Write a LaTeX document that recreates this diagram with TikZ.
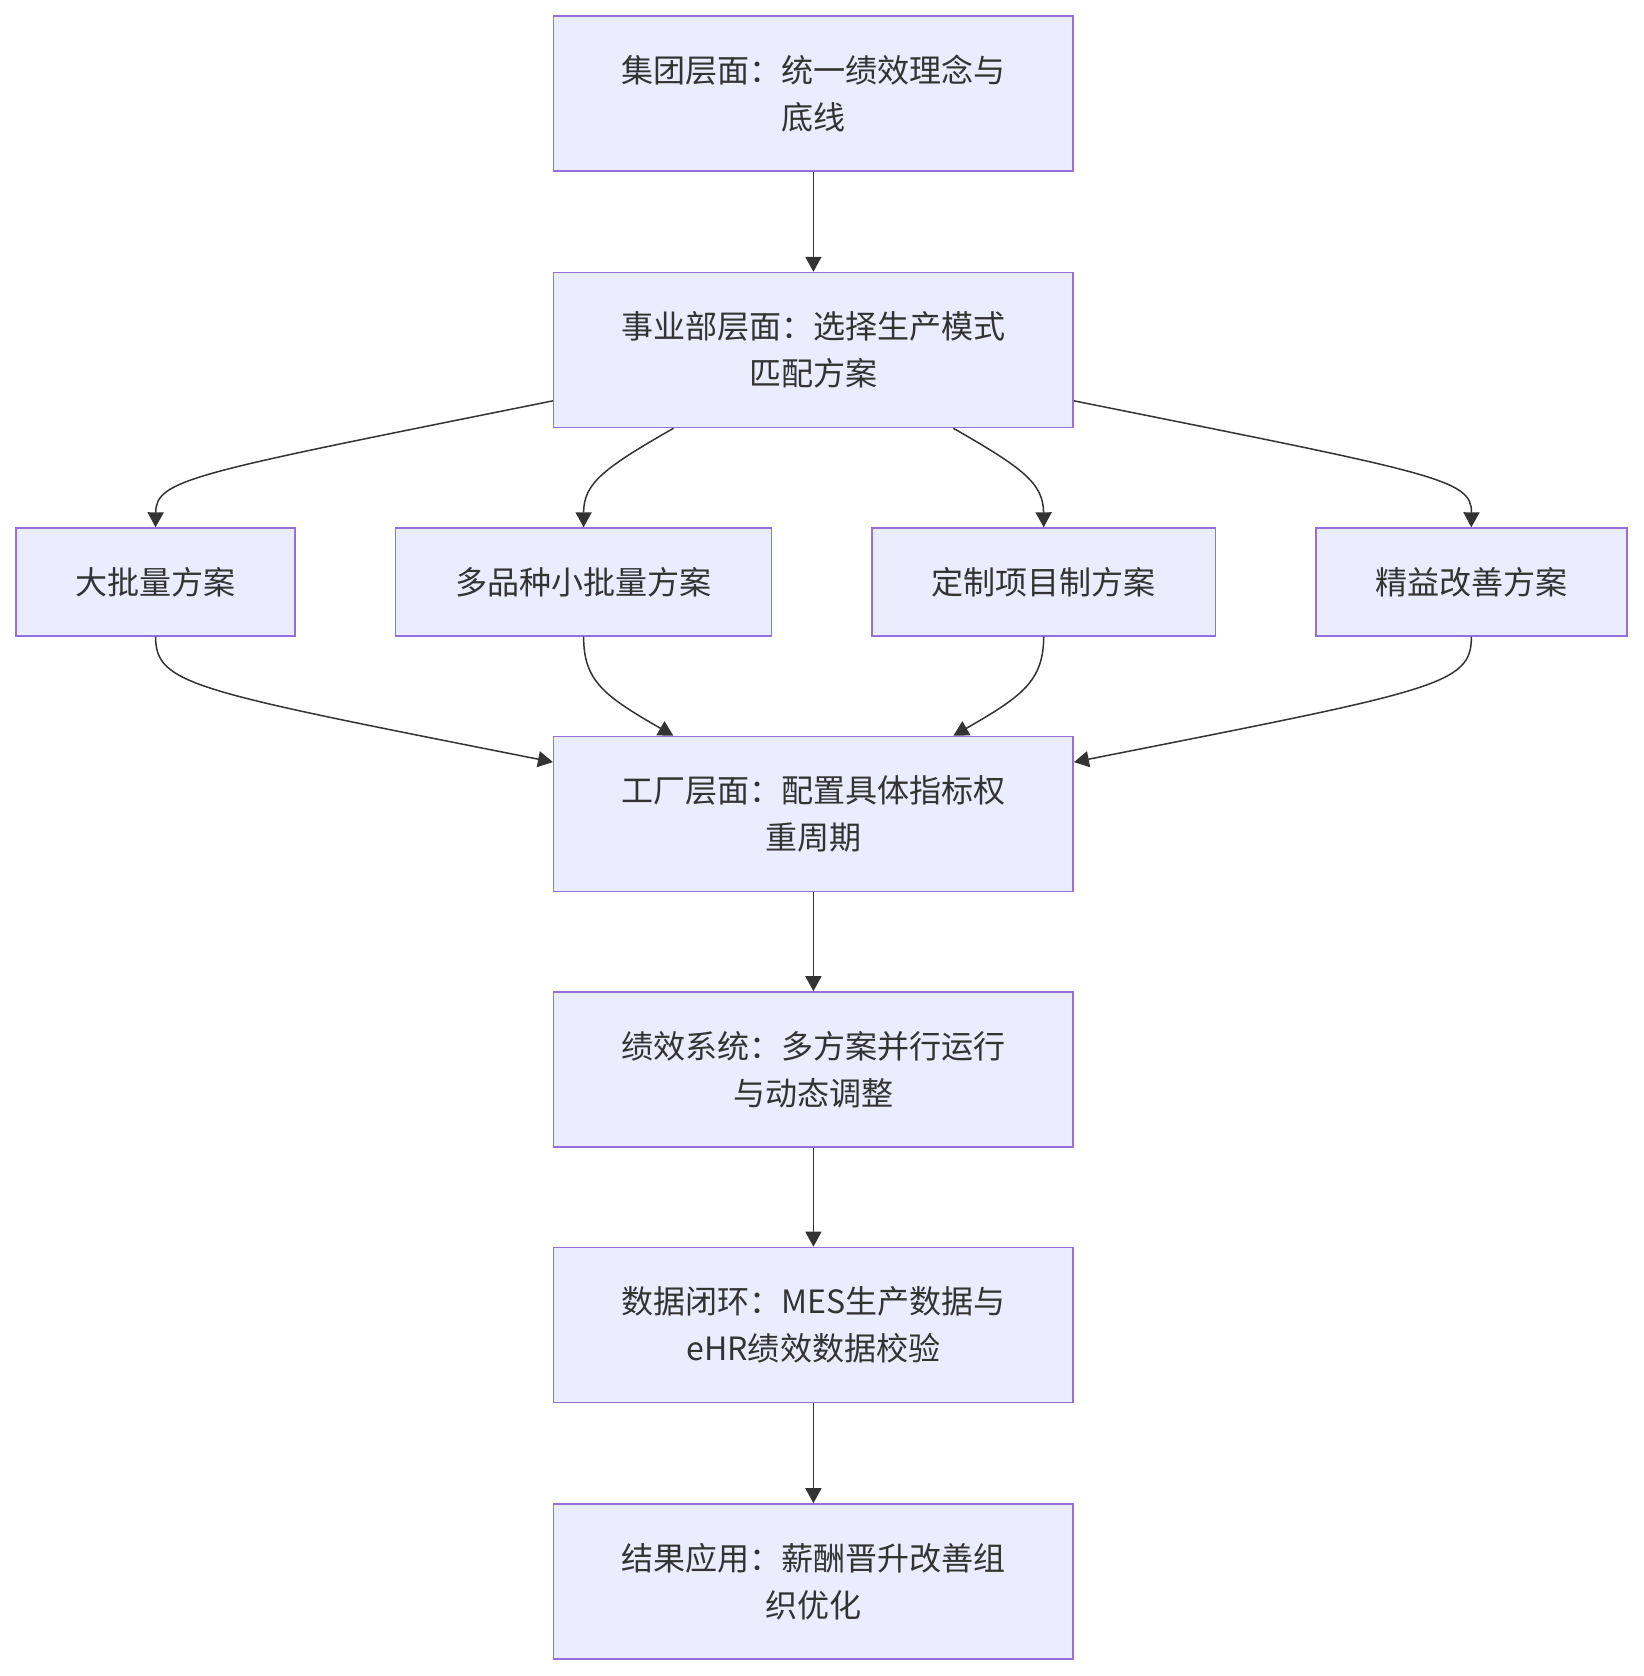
\documentclass[tikz,border=0pt]{standalone}
\usepackage{fontspec}
\setmainfont{Noto Sans CJK SC}
\usetikzlibrary{arrows.meta}
\definecolor{boxfill}{HTML}{ECECFF}
\definecolor{boxline}{HTML}{9370DB}
\definecolor{arr}{HTML}{333333}
\tikzset{
  bigbox/.style={draw=boxline, fill=boxfill, line width=1.4pt, minimum width=486pt, minimum height=145pt, inner sep=0pt, align=center, text=arr, font=\fontsize{30}{44}\selectfont},
  rowbox/.style={draw=boxline, fill=boxfill, line width=1.4pt, minimum height=101pt, inner sep=0pt, align=center, text=arr, font=\fontsize{30}{44}\selectfont},
  link/.style={draw=arr, line width=1.4pt, -{Triangle[length=14pt,width=15pt]}}
}
\begin{document}
\begin{tikzpicture}[x=1pt,y=-1pt]
\useasboundingbox (0,0) rectangle (1538,1568);
\node[bigbox] (b1) at (761,87.5) {集团层面：统一绩效理念与\\底线};
\node[bigbox] (b2) at (761,327.5) {事业部层面：选择生产模式\\匹配方案};
\node[rowbox, minimum width=261pt] (r1) at (145.5,544.5) {大批量方案};
\node[rowbox, minimum width=352pt] (r2) at (546,544.5) {多品种小批量方案};
\node[rowbox, minimum width=321pt] (r3) at (976.5,544.5) {定制项目制方案};
\node[rowbox, minimum width=291pt] (r4) at (1376.5,544.5) {精益改善方案};
\node[bigbox] (b3) at (761,761.5) {工厂层面：配置具体指标权\\重周期};
\node[bigbox] (b4) at (761,1000.5) {绩效系统：多方案并行运行\\与动态调整};
\node[bigbox] (b5) at (761,1239.5) {数据闭环：MES生产数据与\\eHR绩效数据校验};
\node[bigbox] (b6) at (761,1479.5) {结果应用：薪酬晋升改善组\\织优化};

\draw[link] (b1) -- (b2);
\draw[link] (b3) -- (b4);
\draw[link] (b4) -- (b5);
\draw[link] (b5) -- (b6);

\draw[link] ([yshift=-47.5pt]b2.west) .. controls (180,443) and (146,448) .. (r1.north);
\draw[link] ([xshift=-131pt]b2.south) .. controls (565,438) and (546,452) .. (r2.north);
\draw[link] ([xshift=131pt]b2.south) .. controls (957,438) and (976,452) .. (r3.north);
\draw[link] ([yshift=-47.5pt]b2.east) .. controls (1343,443) and (1377,448) .. (r4.north);

\draw[link] (r1.south) .. controls (146,641) and (180,646) .. ([yshift=48.5pt]b3.west);
\draw[link] (r2.south) .. controls (546,637) and (565,651) .. ([xshift=-131pt]b3.north);
\draw[link] (r3.south) .. controls (976,637) and (957,651) .. ([xshift=131pt]b3.north);
\draw[link] (r4.south) .. controls (1377,641) and (1343,646) .. ([yshift=48.5pt]b3.east);
\end{tikzpicture}
\end{document}
